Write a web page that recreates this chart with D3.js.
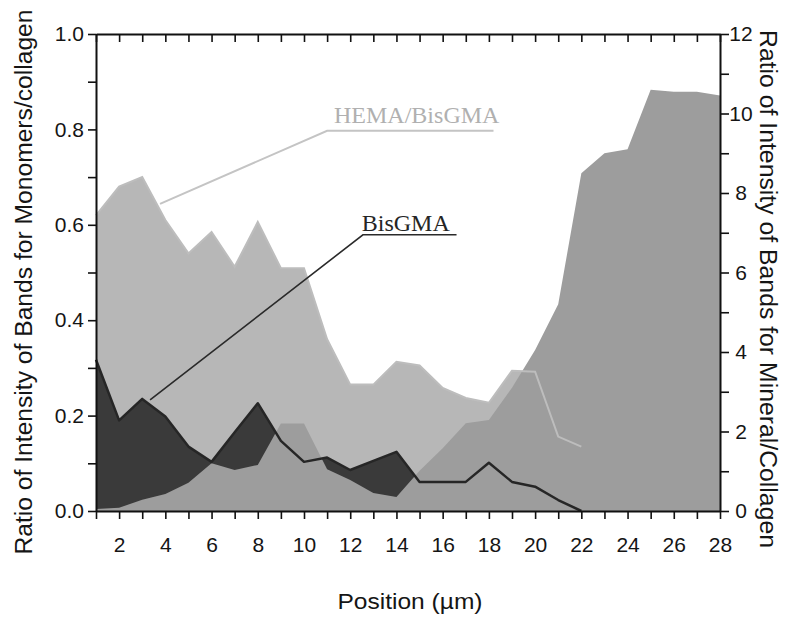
<!DOCTYPE html>
<html>
<head>
<meta charset="utf-8">
<script src="https://cdn.jsdelivr.net/npm/d3@7"></script>
<style>
  html, body { margin: 0; padding: 0; background: #fff; }
  svg { display: block; }
</style>
</head>
<body>
<svg id="chart" width="800" height="625"></svg>
<script>
// ---- data ----
const positions = d3.range(1, 29); // 1..28 µm
const hemaPositions = d3.range(1, 23); // 1..22
const hemaBisGMA = [0.62, 0.68, 0.70, 0.61, 0.54, 0.585, 0.512, 0.606, 0.509, 0.509, 0.36,
                    0.265, 0.265, 0.313, 0.305, 0.258, 0.237, 0.227, 0.294, 0.292, 0.156, 0.135];
const bisGMA = [0.317, 0.19, 0.235, 0.198, 0.135, 0.103, 0.165, 0.226, 0.147, 0.103, 0.112,
                0.086, 0.105, 0.124, 0.061, 0.061, 0.061, 0.101, 0.061, 0.051, 0.023, 0.0];
const mineralCollagen = [0.05, 0.08, 0.28, 0.43, 0.71, 1.2, 1.03, 1.16, 2.2, 2.2, 1.05, 0.78, 0.45, 0.35,
                         1.01, 1.58, 2.21, 2.29, 3.1, 4.05, 5.2, 8.5, 9.0, 9.1, 10.6, 10.55, 10.55, 10.45];
const xTickValues = d3.range(1, 29);
const xTickLabels = d3.range(2, 29, 2);
const leftTickValues = d3.range(0, 1.0001, 0.1).map(v => +v.toFixed(1));
const leftTickLabels = [0, 0.2, 0.4, 0.6, 0.8, 1.0];
const rightTickValues = d3.range(0, 13);
const rightTickLabels = [0, 2, 4, 6, 8, 10, 12];
const labelHema = "HEMA/BisGMA";
const labelBis = "BisGMA";
// annotation anchors in data units (x in µm, y on left axis)
const hemaNote = { from: [3.77, 0.644], elbow: [11.0, 0.797], end: [18.2, 0.797], text: [11.3, 0.814] };
const bisNote  = { from: [3.34, 0.233], elbow: [12.55, 0.579], end: [16.6, 0.579], text: [12.5, 0.587] };

// ---- layout ----
const svg = d3.select("#chart");
const x = d3.scaleLinear().domain([1, 28]).range([96, 720]);
const yL = d3.scaleLinear().domain([0, 1]).range([511, 34]);
const yR = d3.scaleLinear().domain([0, 12]).range([511, 34]);

const hemaData = hemaPositions.map((p, i) => ({ p, v: hemaBisGMA[i] }));
const bisData = hemaPositions.map((p, i) => ({ p, v: bisGMA[i] }));
const minData = positions.map((p, i) => ({ p, v: mineralCollagen[i] }));

const COL_HEMA = "#b7b7b7";
const COL_MIN = "#9d9d9d";
const COL_BIS = "#3a3a3a";

const areaL = d3.area().x(d => x(d.p)).y0(yL(0)).y1(d => yL(d.v));
const areaR = d3.area().x(d => x(d.p)).y0(yR(0)).y1(d => yR(d.v));
const lineL = d3.line().x(d => x(d.p)).y(d => yL(d.v));

const plot = svg.append("g");
plot.append("path").datum(hemaData).attr("d", areaL).attr("fill", COL_HEMA);
plot.append("path").datum(bisData).attr("d", areaL).attr("fill", COL_BIS);
plot.append("path").datum(minData).attr("d", areaR).attr("fill", COL_MIN);
plot.append("path").datum(hemaData).attr("d", lineL)
    .attr("fill", "none").attr("stroke", "#bdbdbd").attr("stroke-width", 2);
plot.append("path").datum(bisData).attr("d", lineL)
    .attr("fill", "none").attr("stroke", "#262626").attr("stroke-width", 2.5)
    .attr("stroke-linejoin", "round");

// ---- axes ----
const font = "'Liberation Sans', Arial, sans-serif";
function styleAxis(g) {
  g.selectAll("path.domain").attr("stroke", "#111").attr("stroke-width", 2);
  g.selectAll(".tick line").attr("stroke", "#111").attr("stroke-width", 1.6);
  g.selectAll(".tick text").attr("fill", "#151515").style("font-family", font).style("font-size", "21px");
}

const gBottom = svg.append("g").attr("transform", `translate(0,${yL(0)})`)
  .call(d3.axisBottom(x).tickValues(xTickValues).tickSize(8).tickSizeOuter(0).tickPadding(18)
    .tickFormat(d => xTickLabels.includes(d) ? d : ""));
styleAxis(gBottom);

const gTop = svg.append("g").attr("transform", `translate(0,${yL(1)})`)
  .call(d3.axisBottom(x).tickValues(xTickValues).tickSize(8).tickSizeOuter(0).tickFormat(""));
styleAxis(gTop);

const gLeft = svg.append("g").attr("transform", `translate(${x(1)},0)`)
  .call(d3.axisLeft(yL).tickValues(leftTickValues).tickSize(8).tickSizeOuter(0).tickPadding(4)
    .tickFormat(d => leftTickLabels.some(t => Math.abs(t - d) < 1e-6) ? d3.format(".1f")(d) : ""));
styleAxis(gLeft);

const gRight = svg.append("g").attr("transform", `translate(${x(28)},0)`)
  .call(d3.axisRight(yR).tickValues(rightTickValues).tickSize(9).tickSizeOuter(0).tickPadding(2)
    .tickFormat(d => rightTickLabels.includes(d) ? d : ""));
styleAxis(gRight);
gRight.selectAll(".tick text").attr("text-anchor", "middle").attr("x", 21);

// ---- axis titles ----
svg.append("text")
  .attr("transform", `translate(32,282) rotate(-90)`)
  .attr("text-anchor", "middle")
  .attr("textLength", 545).attr("lengthAdjust", "spacingAndGlyphs")
  .style("font-family", font).style("font-size", "23px").attr("fill", "#151515")
  .text("Ratio of Intensity of Bands for Monomers/collagen");

svg.append("text")
  .attr("transform", `translate(760,289) rotate(90)`)
  .attr("text-anchor", "middle")
  .attr("textLength", 518).attr("lengthAdjust", "spacingAndGlyphs")
  .style("font-family", font).style("font-size", "23px").attr("fill", "#151515")
  .text("Ratio of Intensity of Bands for Mineral/Collagen");

svg.append("text")
  .attr("x", 410).attr("y", 609)
  .attr("text-anchor", "middle")
  .attr("textLength", 145).attr("lengthAdjust", "spacingAndGlyphs")
  .style("font-family", font).style("font-size", "22px").attr("fill", "#151515")
  .text("Position (\u00b5m)");

// ---- annotations ----
const serif = "'Liberation Serif', 'Times New Roman', serif";
function note(n, label, lineCol, textCol, w) {
  svg.append("polyline")
    .attr("points", [n.from, n.elbow, n.end].map(p => [x(p[0]), yL(p[1])].join(",")).join(" "))
    .attr("fill", "none").attr("stroke", lineCol).attr("stroke-width", w);
  svg.append("text")
    .attr("x", x(n.text[0])).attr("y", yL(n.text[1]))
    .style("font-family", serif).style("font-size", "24px").attr("fill", textCol)
    .text(label);
}
note(hemaNote, labelHema, "#c4c4c4", "#b0b0b0", 2);
note(bisNote, labelBis, "#2a2a2a", "#252525", 1.6);
</script>
</body>
</html>
